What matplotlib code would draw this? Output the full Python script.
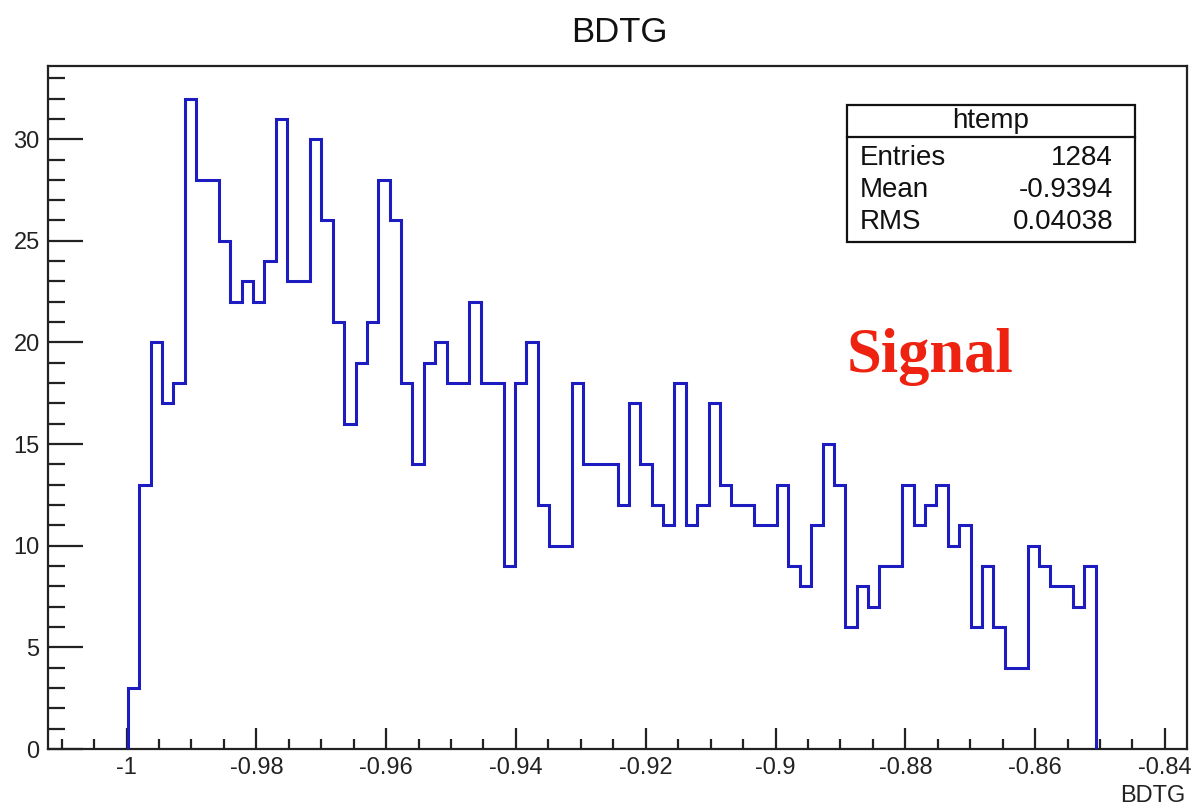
import matplotlib
matplotlib.use("Agg")
import matplotlib.pyplot as plt
import numpy as np
from matplotlib.patches import Rectangle
from matplotlib.lines import Line2D
from matplotlib.ticker import MultipleLocator, FuncFormatter

# htemp: 100 bins over the auto range, only bins 7..91 are filled
hist_lo = -1.0121
hist_hi = -0.8366
n_bins = 100
first_bin = 7
counts = [
    3, 13, 20, 17, 18, 32, 28, 28, 25, 22,
    23, 22, 24, 31, 23, 23, 30, 26, 21, 16,
    19, 21, 28, 26, 18, 14, 19, 20, 18, 18,
    22, 18, 18, 9, 18, 20, 12, 10, 10, 18,
    14, 14, 14, 12, 17, 14, 12, 11, 18, 11,
    12, 17, 13, 12, 12, 11, 11, 13, 9, 8,
    11, 15, 13, 6, 8, 7, 9, 9, 13, 11,
    12, 13, 10, 11, 6, 9, 6, 4, 4, 10,
    9, 8, 8, 7, 9,
]
stat_names = ["Entries", "Mean", "RMS"]
stat_values = ["1284", "-0.9394", "0.04038"]
hist_name = "htemp"
var_name = "BDTG"

plt.rcParams["font.family"] = ["Liberation Sans", "DejaVu Sans"]
plt.rcParams["axes.unicode_minus"] = False

W, H = 1192, 811
fig = plt.figure(figsize=(W / 100, H / 100), dpi=100)
ax = fig.add_axes([48 / W, 1 - 749 / H, (1187 - 48) / W, (749 - 66) / H])

edges = np.linspace(hist_lo, hist_hi, n_bins + 1)
sub_edges = edges[first_bin:first_bin + len(counts) + 1]
ax.stairs(counts, sub_edges, baseline=0, color="#1c1cc0", lw=2.2, zorder=3)

ax.set_xlim(hist_lo, hist_hi)
ax.set_ylim(0, max(counts) * 1.05)

ax.xaxis.set_major_locator(MultipleLocator(0.02))
ax.xaxis.set_minor_locator(MultipleLocator(0.005))
ax.yaxis.set_major_locator(MultipleLocator(5))
ax.yaxis.set_minor_locator(MultipleLocator(1))
ax.xaxis.set_major_formatter(FuncFormatter(lambda v, p: f"{round(v, 3):g}"))

ax.tick_params(which="both", direction="in", top=False, right=False,
               colors="#222222", width=1.6, labelsize=17, labelcolor="#222222")
ax.tick_params(axis="x", which="major", length=15, pad=6)
ax.tick_params(axis="x", which="minor", length=7.5)
ax.tick_params(axis="y", which="major", length=25, pad=6)
ax.tick_params(axis="y", which="minor", length=12.5)
for sp in ax.spines.values():
    sp.set_linewidth(1.6)
    sp.set_color("#222222")

fig.text(0.52, 1 - 32 / H, var_name, ha="center", va="center", fontsize=25, color="#111111")
fig.text(1185 / W, 1 - 796 / H, var_name, ha="right", va="center", fontsize=17, color="#222222")

# stats box
bx0, bx1, by0, by1 = 847, 1135, 105, 242
fig.add_artist(Rectangle((bx0 / W, 1 - by1 / H), (bx1 - bx0) / W, (by1 - by0) / H,
                         transform=fig.transFigure, fill=True, facecolor="white",
                         edgecolor="#111111", lw=1.6, zorder=5))
fig.add_artist(Line2D([bx0 / W, bx1 / W], [1 - 137 / H, 1 - 137 / H],
                      transform=fig.transFigure, color="#111111", lw=1.6, zorder=6))
fig.text((bx0 + bx1) / 2 / W, 1 - 121 / H, hist_name, ha="center", va="center",
         fontsize=20, color="#111111", zorder=7)
for i, (nm, val) in enumerate(zip(stat_names, stat_values)):
    yy = 1 - (158 + 32 * i) / H
    fig.text(860 / W, yy, nm, ha="left", va="center", fontsize=20, color="#111111", zorder=7)
    fig.text(1113 / W, yy, val, ha="right", va="center", fontsize=20, color="#111111", zorder=7)

fig.text(847 / W, 1 - 357 / H, "Signal", ha="left", va="center", fontsize=45,
         fontweight="bold", family=["Liberation Serif", "DejaVu Serif"], color="#ee2211")

fig.savefig("out.png", dpi=100)
